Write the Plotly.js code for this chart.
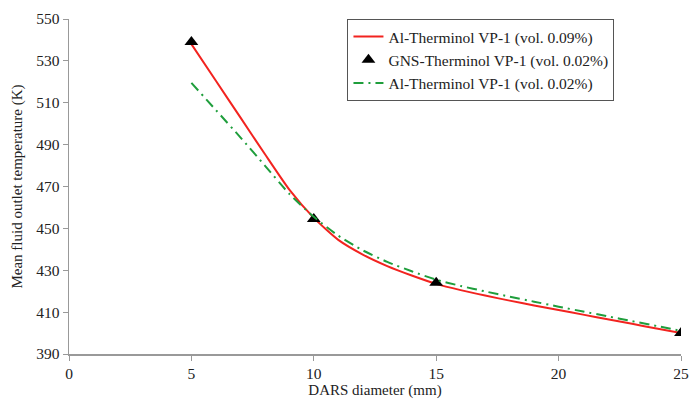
<!DOCTYPE html>
<html>
<head>
<meta charset="utf-8">
<script src="https://cdn.plot.ly/plotly-3.0.1.min.js"></script>
<style>html,body{margin:0;padding:0;background:#fff;}#chart{width:700px;height:399px;}</style>
</head>
<body>
<div id="chart"></div>
<script>
// Data (curves read at 1 mm steps)
const curveX = [5, 6, 7, 8, 9, 10, 11, 12, 13, 14, 15, 16, 17, 18, 19, 20, 21, 22, 23, 24, 25];
const redY = [538, 520.5, 503, 485.5, 468.5, 455, 444.5, 437.5, 432, 427.5, 423.5, 420.5, 417.9, 415.5, 413.2, 411, 408.8, 406.6, 404.4, 402.2, 400];
const greenY = [519.5, 506.5, 493.5, 480, 466.5, 455.5, 446.5, 439.5, 434, 429.5, 425.5, 422.5, 419.9, 417.4, 415, 412.6, 410.3, 408, 405.7, 403.4, 401];
const triX = [5, 10, 15, 25];
const triY = [539, 454.5, 424, 400];
const names = ["Al-Therminol VP-1 (vol. 0.09%)", "GNS-Therminol VP-1 (vol. 0.02%)", "Al-Therminol VP-1 (vol. 0.02%)"];
const xTicks = [0, 5, 10, 15, 20, 25];
const yTicks = [390, 410, 430, 450, 470, 490, 510, 530, 550];

const font = {family: "Liberation Serif, Times New Roman, serif", size: 15.5, color: "#222"};
const titleFont = {family: "Liberation Serif, Times New Roman, serif", size: 15, color: "#222"};

const traces = [
  {x: curveX, y: redY, name: names[0], mode: "lines", line: {color: "#f2231f", width: 2, shape: "spline", smoothing: 0.6}},
  {x: triX, y: triY, name: names[1], mode: "markers", marker: {symbol: "triangle-up", color: "#000", size: 12}},
  {x: curveX, y: greenY, name: names[2], mode: "lines", line: {color: "#1f9e3c", width: 2, dash: "10px,5px,2px,5px", shape: "spline", smoothing: 0.6}}
];

const axisCommon = {
  showgrid: false, zeroline: false, showline: true, linecolor: "#999", linewidth: 1.5,
  ticks: "outside", ticklen: 5, tickcolor: "#999", tickfont: font
};

const layout = {
  width: 700, height: 399,
  margin: {l: 69, r: 19, t: 19, b: 45},
  paper_bgcolor: "#fff", plot_bgcolor: "#fff",
  font: font,
  showlegend: true,
  legend: {x: 0.455, y: 1.0, xanchor: "left", yanchor: "top", bgcolor: "#fff", bordercolor: "#555", borderwidth: 1, font: font, tracegroupgap: 0, itemwidth: 30},
  xaxis: Object.assign({}, axisCommon, {range: [0, 25], tickvals: xTicks, ticktext: xTicks.map(String),
    title: {text: "DARS diameter (mm)", font: titleFont, standoff: 2}}),
  yaxis: Object.assign({}, axisCommon, {range: [390, 550], tickvals: yTicks, ticktext: yTicks.map(String),
    title: {text: "Mean fluid outlet temperature (K)", font: titleFont, standoff: 10}})
};

Plotly.newPlot("chart", traces, layout, {displayModeBar: false, staticPlot: true});
</script>
</body>
</html>
